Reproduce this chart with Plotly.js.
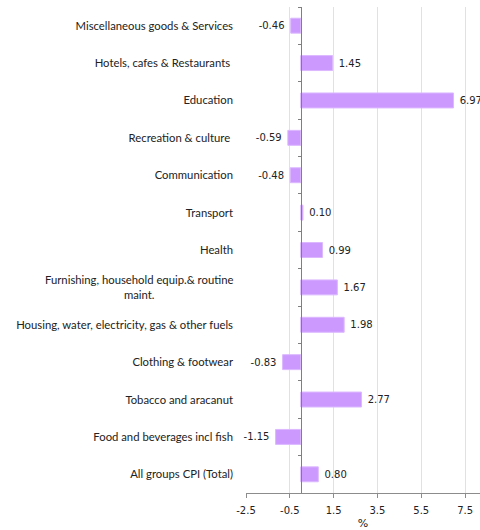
<!DOCTYPE html>
<html>
<head>
<meta charset="utf-8">
<script src="https://cdn.plot.ly/plotly-3.0.1.min.js"></script>
<style>html,body{margin:0;padding:0;background:#fff;}#chart{width:480px;height:530px;}</style>
</head>
<body>
<div id="chart"></div>
<script>
const categories = [
  "Miscellaneous goods & Services",
  "Hotels, cafes & Restaurants\u00a0",
  "Education",
  "Recreation & culture\u00a0",
  "Communication",
  "Transport",
  "Health",
  "Furnishing, household equip.& routine<br>maint.",
  "Housing, water, electricity, gas & other fuels",
  "Clothing & footwear",
  "Tobacco and aracanut",
  "Food and beverages incl fish",
  "All groups CPI (Total)"
];
const values = [-0.46, 1.45, 6.97, -0.59, -0.48, 0.10, 0.99, 1.67, 1.98, -0.83, 2.77, -1.15, 0.80];
const tickVals = [-2.5, -0.5, 1.5, 3.5, 5.5, 7.5];
const tickLabels = ["-2.5", "-0.5", "1.5", "3.5", "5.5", "7.5"];
const xMin = -2.5, xMax = 8.18;

const zeroFrac = (0 - xMin) / (xMax - xMin);
const yRange = [categories.length - 0.5, -0.5];
const labelFont = {family: 'Lato', size: 11.3, color: '#222'};

// multi-line labels are drawn as centred annotations; single-line ones as tick labels
const isMulti = categories.map(c => c.indexOf('<br>') >= 0);
const yTickText = categories.map((c, i) => isMulti[i] ? '' : c);
const annotations = categories.filter((c, i) => isMulti[i]).map(c => ({
  xref: 'paper', yref: 'y', x: 0, y: c,
  xanchor: 'right', yanchor: 'middle', xshift: -11,
  text: c, align: 'center', showarrow: false, font: labelFont
}));

const traces = [
  {
    type: 'bar', orientation: 'h',
    x: values, y: categories,
    marker: {color: '#cc99ff', line: {color: '#dcb8ff', width: 1}},
    width: 0.4,
    text: values.map(v => v < 0 ? v.toFixed(2) + '\u00a0' : '\u00a0' + v.toFixed(2)),
    textposition: 'outside',
    cliponaxis: false,
    textfont: {family: 'DejaVu Sans', size: 10, color: '#222'},
    hoverinfo: 'x+y'
  },
  {
    type: 'scatter', mode: 'markers',
    x: values.map(() => 0), y: categories,
    yaxis: 'y2',
    marker: {opacity: 0, size: 1},
    hoverinfo: 'skip', showlegend: false
  }
];

const layout = {
  width: 480, height: 530,
  margin: {l: 246, r: 0, t: 7, b: 37},
  paper_bgcolor: '#fff', plot_bgcolor: '#fff',
  showlegend: false,
  font: {family: 'DejaVu Sans', size: 10, color: '#222'},
  bargap: 0.6,
  annotations: annotations,
  xaxis: {
    range: [xMin, xMax],
    tickmode: 'array', tickvals: tickVals, ticktext: tickLabels,
    showgrid: true, gridcolor: '#d8e2f0', gridwidth: 1,
    zeroline: false,
    showline: true, linecolor: '#8c8c8c', linewidth: 1,
    ticks: 'outside', ticklen: 4, tickcolor: '#8c8c8c',
    ticklabelstandoff: 4,
    tickfont: {family: 'DejaVu Sans', size: 10, color: '#222'},
    title: {text: '%', font: {family: 'DejaVu Sans', size: 11, color: '#222'}, standoff: 5}
  },
  yaxis: {
    type: 'category', range: yRange,
    tickmode: 'array', tickvals: categories, ticktext: yTickText,
    showgrid: false, zeroline: false, showline: false,
    ticks: '', ticklabelstandoff: 12,
    tickfont: labelFont
  },
  yaxis2: {
    type: 'category', range: yRange,
    overlaying: 'y', anchor: 'free', position: zeroFrac, side: 'left',
    showgrid: false, zeroline: false,
    showline: true, linecolor: '#7f7f7f', linewidth: 1,
    ticks: 'outside', ticklen: 3, tickcolor: '#7f7f7f', tickson: 'boundaries',
    showticklabels: false
  }
};

Plotly.newPlot('chart', traces, layout, {displayModeBar: false, staticPlot: true});
</script>
</body>
</html>
